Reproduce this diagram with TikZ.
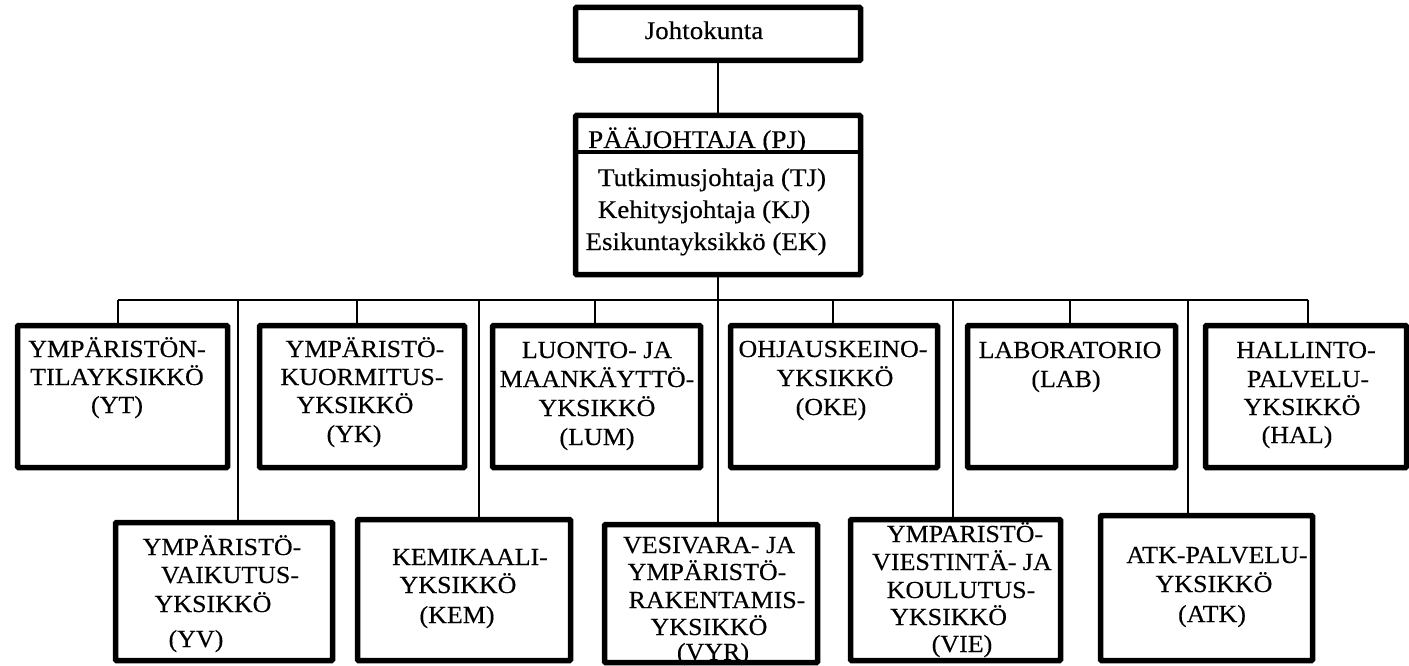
\documentclass[tikz,border=0pt]{standalone}
\usepackage{fontspec}
\setmainfont[FakeStretch=1.06,FakeBold=0.3]{Liberation Serif}
\begin{document}
\begin{tikzpicture}[x=1pt,y=-1pt,
  unit/.style={draw, line width=5.5pt, rectangle, rounded corners=1pt, inner sep=0pt},
  divider/.style={line width=4pt},
  wire/.style={line width=1.5pt},
  lbl/.style={anchor=base, inner sep=0pt, font=\fontsize{24.5}{28}\selectfont},
  head/.style={anchor=base, inner sep=0pt, font=\fontsize{25.5}{30}\selectfont}]
\useasboundingbox (0,0) rectangle (1409,666);

% ---- management ----
\node[unit, minimum width=285, minimum height=53] (jk) at (718,34) {};
\node[unit, minimum width=285, minimum height=159] (pj) at (718,195) {};
\coordinate (div) at (718,152);
\draw[divider] (div -| pj.west) -- (div -| pj.east);

\node[head] (jk-t) at (704,39) {Johtokunta};
\node[head, anchor=base west] (pj-0) at (588,148) {PÄÄJOHTAJA (PJ)};
\node[head] (pj-1) at (712,186) {Tutkimusjohtaja (TJ)};
\node[head] (pj-2) at (704,218) {Kehitysjohtaja (KJ)};
\node[head] (pj-3) at (706,250) {Esikuntayksikkö (EK)};

% ---- upper row of units ----
\node[unit, minimum width=210, minimum height=142] (yt)  at (122.5,396.5) {};
\node[unit, minimum width=205, minimum height=142] (yk)  at (362,396.5) {};
\node[unit, minimum width=208, minimum height=142] (lum) at (596.5,396.5) {};
\node[unit, minimum width=207, minimum height=142] (oke) at (834,396.5) {};
\node[unit, minimum width=208, minimum height=142] (lab) at (1071.5,396.5) {};
\node[unit, minimum width=201, minimum height=142] (hal) at (1306,396.5) {};

% ---- lower row of units ----
\node[unit, minimum width=217, minimum height=138] (yv)  at (224,591.5) {};
\node[unit, minimum width=213, minimum height=141] (kem) at (464,590) {};
\node[unit, minimum width=213, minimum height=138] (vyr) at (711,593.5) {};
\node[unit, minimum width=210, minimum height=141] (vie) at (955.5,590) {};
\node[unit, minimum width=212, minimum height=145] (atk) at (1206.5,588) {};

% ---- connectors ----
\coordinate (tYT)  at (118,300);
\coordinate (tYK)  at (357,300);
\coordinate (tLUM) at (595,300);
\coordinate (tOKE) at (833,300);
\coordinate (tLAB) at (1070,300);
\coordinate (tHAL) at (1308,300);
\coordinate (tYV)  at (238,300);
\coordinate (tKEM) at (479,300);
\coordinate (tVIE) at (953,300);
\coordinate (tATK) at (1188,300);

\draw[wire] (jk.south) -- (pj.north);
\draw[wire] (tYT) -- (tHAL);
\draw[wire] (pj.south) -- (pj.south |- vyr.north);
\foreach \t/\n in {tYT/yt, tYK/yk, tLUM/lum, tOKE/oke, tLAB/lab, tHAL/hal,
                   tYV/yv, tKEM/kem, tVIE/vie, tATK/atk}
  \draw[wire] (\t) -- (\t |- \n.north);

% ---- unit names, upper row ----
\node[lbl] (yt-1) at (117,357) {YMPÄRISTÖN-};
\node[lbl] (yt-2) at (117,385) {TILAYKSIKKÖ};
\node[lbl] (yt-3) at (117,413) {(YT)};

\node[lbl] (yk-1) at (365,357) {YMPÄRISTÖ-};
\node[lbl] (yk-2) at (362,385) {KUORMITUS-};
\node[lbl] (yk-3) at (355,413) {YKSIKKÖ};
\node[lbl] (yk-4) at (354,442) {(YK)};

\node[lbl] (lum-1) at (597,358) {LUONTO- JA};
\node[lbl] (lum-2) at (597,387) {MAANKÄYTTÖ-};
\node[lbl] (lum-3) at (597,416) {YKSIKKÖ};
\node[lbl] (lum-4) at (597,445) {(LUM)};

\node[lbl] (oke-1) at (833,357) {OHJAUSKEINO-};
\node[lbl] (oke-2) at (835,386) {YKSIKKÖ};
\node[lbl] (oke-3) at (831,415) {(OKE)};

\node[lbl] (lab-1) at (1070,358) {LABORATORIO};
\node[lbl] (lab-2) at (1066,387) {(LAB)};

\node[lbl] (hal-1) at (1306,358) {HALLINTO-};
\node[lbl] (hal-2) at (1308,387) {PALVELU-};
\node[lbl] (hal-3) at (1302,415) {YKSIKKÖ};
\node[lbl] (hal-4) at (1297,443) {(HAL)};

% ---- unit names, lower row ----
\node[lbl] (yv-1) at (222,555) {YMPÄRISTÖ-};
\node[lbl] (yv-2) at (230,583) {VAIKUTUS-};
\node[lbl] (yv-3) at (213,612) {YKSIKKÖ};
\node[lbl] (yv-4) at (196,647) {(YV)};

\node[lbl] (kem-1) at (470,565) {KEMIKAALI-};
\node[lbl] (kem-2) at (458,593) {YKSIKKÖ};
\node[lbl] (kem-3) at (457,623) {(KEM)};

\node[lbl] (vyr-1) at (709,553) {VESIVARA- JA};
\node[lbl] (vyr-2) at (707,580) {YMPÄRISTÖ-};
\node[lbl] (vyr-3) at (717,608) {RAKENTAMIS-};
\node[lbl] (vyr-4) at (709,635) {YKSIKKÖ};
\node[lbl] (vyr-5) at (713,660) {(VYR)};

\node[lbl] (vie-1) at (965,542) {YMPARISTÖ-};
\node[lbl] (vie-2) at (962,570) {VIESTINTÄ- JA};
\node[lbl] (vie-3) at (961,598) {KOULUTUS-};
\node[lbl, anchor=base west] (vie-4) at (890,625) {YKSIKKÖ};
\node[lbl] (vie-5) at (962,652) {(VIE)};

\node[lbl] (atk-1) at (1217,563) {ATK-PALVELU-};
\node[lbl] (atk-2) at (1214,592) {YKSIKKÖ};
\node[lbl] (atk-3) at (1212,622) {(ATK)};
\end{tikzpicture}
\end{document}
